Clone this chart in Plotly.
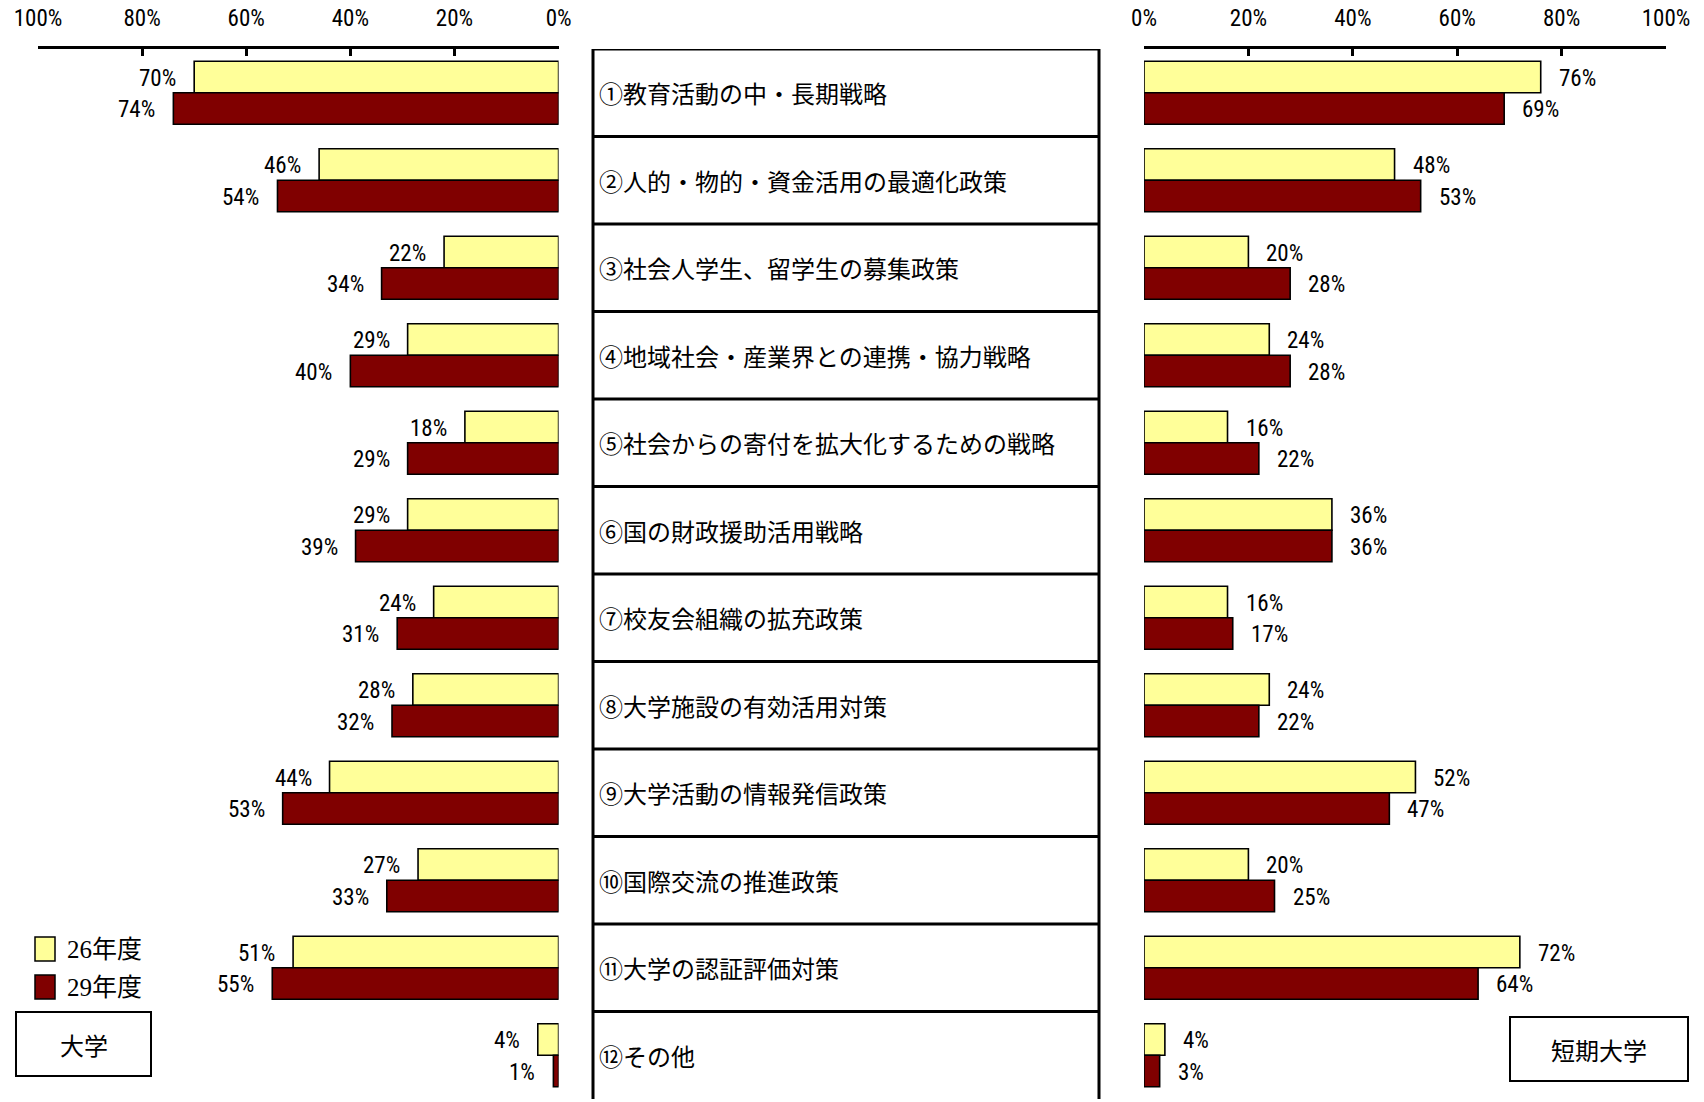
import plotly.graph_objects as go

# Survey items (rows, top to bottom)
categories = [
    "①教育活動の中・長期戦略",
    "②人的・物的・資金活用の最適化政策",
    "③社会人学生、留学生の募集政策",
    "④地域社会・産業界との連携・協力戦略",
    "⑤社会からの寄付を拡大化するための戦略",
    "⑥国の財政援助活用戦略",
    "⑦校友会組織の拡充政策",
    "⑧大学施設の有効活用対策",
    "⑨大学活動の情報発信政策",
    "⑩国際交流の推進政策",
    "⑪大学の認証評価対策",
    "⑫その他",
]

# 大学 (left panel), percent
univ_h26 = [70, 46, 22, 29, 18, 29, 24, 28, 44, 27, 51, 4]
univ_h29 = [74, 54, 34, 40, 29, 39, 31, 32, 53, 33, 55, 1]

# 短期大学 (right panel), percent
junior_h26 = [76, 48, 20, 24, 16, 36, 16, 24, 52, 20, 72, 4]
junior_h29 = [69, 53, 28, 28, 22, 36, 17, 22, 47, 25, 64, 3]

series_names = ["26年度", "29年度"]
panel_names = ["大学", "短期大学"]
tick_values = [0, 20, 40, 60, 80, 100]
tick_labels = ["0%", "20%", "40%", "60%", "80%", "100%"]

W, H = 1704, 1102
M_T, M_B = 49, 3
YELLOW = "#FFFF99"
MAROON = "#800000"
NUM_FONT = ("Roboto Condensed, Liberation Sans Narrow, Arial Narrow, "
            "DejaVu Sans Condensed, sans-serif")
JP_FONT = "Noto Sans CJK JP, sans-serif"


def px_x(px):
    return px / W


def px_y(py):
    return (H - M_B - py) / (H - M_T - M_B)


rows = list(range(len(categories)))
BAR_W = 0.36

fig = go.Figure()

for vals, color, off, xa in [
    (univ_h26, YELLOW, -BAR_W, "x"),
    (univ_h29, MAROON, 0.0, "x"),
    (junior_h26, YELLOW, -BAR_W, "x2"),
    (junior_h29, MAROON, 0.0, "x2"),
]:
    fig.add_trace(go.Bar(
        x=vals, y=rows, orientation="h",
        width=BAR_W, offset=off,
        marker=dict(color=color, line=dict(color="black", width=1.6)),
        xaxis=xa, yaxis="y", showlegend=False, hoverinfo="skip",
    ))

annotations = []

# value labels
for vals, dy in [(univ_h26, -BAR_W / 2), (univ_h29, BAR_W / 2)]:
    for i, v in enumerate(vals):
        annotations.append(dict(
            x=v, y=i + dy, xref="x", yref="y", text=f"{v}%",
            showarrow=False, xanchor="right", yanchor="middle",
            xshift=-16, yshift=-1,
            font=dict(family=NUM_FONT, size=23, color="black"),
        ))
for vals, dy in [(junior_h26, -BAR_W / 2), (junior_h29, BAR_W / 2)]:
    for i, v in enumerate(vals):
        annotations.append(dict(
            x=v, y=i + dy, xref="x2", yref="y", text=f"{v}%",
            showarrow=False, xanchor="left", yanchor="middle",
            xshift=16, yshift=-1,
            font=dict(family=NUM_FONT, size=23, color="black"),
        ))

# item names in the central table
for i, name in enumerate(categories):
    annotations.append(dict(
        x=px_x(597), y=i, xref="paper", yref="y", text=name,
        showarrow=False, xanchor="left", yanchor="middle",
        font=dict(family=JP_FONT, size=24, color="black"),
    ))

shapes = []
TABLE_L, TABLE_R = px_x(593), px_x(1099)
for xp in (TABLE_L, TABLE_R):
    shapes.append(dict(type="line", xref="paper", yref="y",
                       x0=xp, x1=xp, y0=-0.5, y1=11.6,
                       line=dict(color="black", width=3)))
for k in range(len(categories)):
    shapes.append(dict(type="line", xref="paper", yref="y",
                       x0=TABLE_L, x1=TABLE_R, y0=k - 0.5, y1=k - 0.5,
                       line=dict(color="black", width=3)))

# legend swatches and labels
for (top, bot), color, name in [((937, 961), YELLOW, series_names[0]),
                                ((975, 999), MAROON, series_names[1])]:
    shapes.append(dict(type="rect", xref="paper", yref="paper",
                       x0=px_x(35), x1=px_x(55), y0=px_y(bot), y1=px_y(top),
                       fillcolor=color, line=dict(color="black", width=1.5)))
    annotations.append(dict(
        x=px_x(65), y=px_y((top + bot) / 2), xref="paper", yref="paper",
        text=name, showarrow=False, xanchor="left", yanchor="middle",
        font=dict(family="Liberation Serif, Noto Sans CJK JP, serif", size=25, color="black"),
    ))

# panel name boxes
for (x0, x1, y0, y1), name in [((16, 151, 1012, 1076), panel_names[0]),
                               ((1510, 1688, 1017, 1081), panel_names[1])]:
    shapes.append(dict(type="rect", xref="paper", yref="paper",
                       x0=px_x(x0), x1=px_x(x1), y0=px_y(y1), y1=px_y(y0),
                       fillcolor="white", line=dict(color="black", width=2)))
    annotations.append(dict(
        x=px_x((x0 + x1) / 2), y=px_y((y0 + y1) / 2), xref="paper", yref="paper",
        text=name, showarrow=False, xanchor="center", yanchor="middle",
        font=dict(family=JP_FONT, size=24, color="black"),
    ))

axis_common = dict(
    side="top", anchor="y", tickmode="array",
    tickvals=tick_values, ticktext=tick_labels,
    ticks="inside", ticklen=7, tickwidth=2.5, tickcolor="black",
    showline=True, linewidth=3, linecolor="black",
    showgrid=False, zeroline=False, ticklabelstandoff=11,
    tickfont=dict(family=NUM_FONT, size=23, color="black"),
    automargin=False, fixedrange=True,
)

fig.update_layout(
    width=W, height=H,
    margin=dict(l=0, r=0, t=M_T, b=M_B, autoexpand=False),
    paper_bgcolor="white", plot_bgcolor="white",
    barmode="overlay",
    xaxis=dict(domain=[px_x(38), px_x(558.6)], range=[100, 0], **axis_common),
    xaxis2=dict(domain=[px_x(1144), px_x(1666)], range=[0, 100], **axis_common),
    yaxis=dict(range=[11.5, -0.5], showticklabels=False, showgrid=False,
               zeroline=False, showline=False, ticks="", fixedrange=True,
               automargin=False),
    annotations=annotations,
    shapes=shapes,
    showlegend=False,
)

fig.write_html("out.html")
